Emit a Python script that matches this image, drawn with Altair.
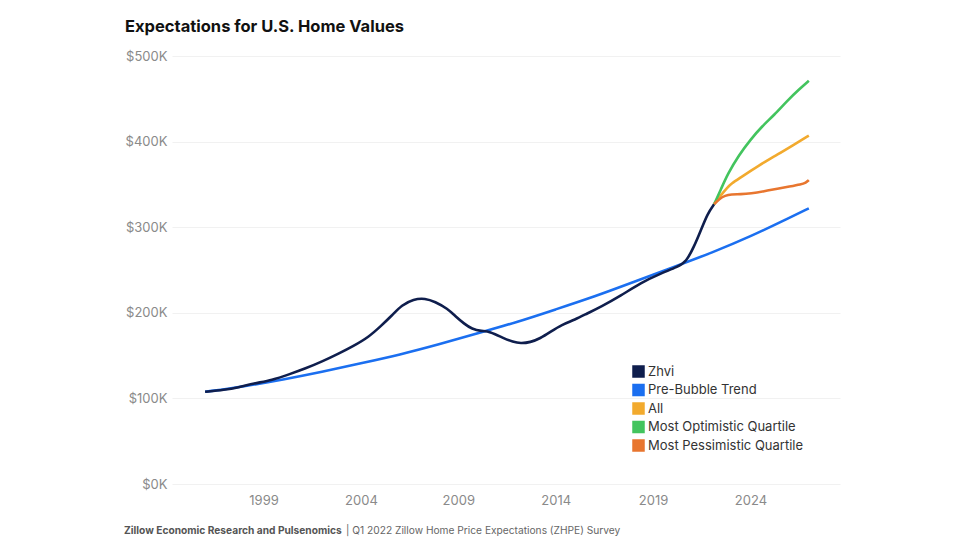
import altair as alt
import pandas as pd

# ---- data (values in $K, x in decimal years) ----
zhvi_years = [1996.0, 1997.0, 1997.7, 1998.5, 1999.45, 2000.3, 2001.16, 2002.0, 2002.87, 2003.6,
              2004.41, 2005.0, 2005.6, 2006.1, 2006.7, 2007.3, 2007.8, 2008.44, 2008.9, 2009.29,
              2009.7, 2010.2, 2010.6, 2011.35, 2011.8, 2012.2, 2012.7, 2013.2, 2013.75, 2014.3,
              2015.0, 2015.6, 2016.32, 2017.35, 2018.37, 2019.4, 2020.26, 2020.7, 2021.1, 2021.45,
              2021.8, 2022.14]
zhvi_values = [107.7, 110, 112.8, 117.5, 121.4, 128, 135, 143, 152.5, 161,
               171.9, 184, 197, 209, 216, 217, 213, 205, 195, 187.5,
               181, 178.5, 178.5, 170, 166, 164.2, 165.5, 170, 178, 186,
               192, 199, 207, 220, 235, 246, 253.6, 259.5, 277, 296,
               316, 327]

trend_years = [1996, 1998, 2000, 2002, 2004, 2006, 2008, 2010, 2012, 2014, 2016, 2018, 2020, 2022, 2024, 2026, 2027]
trend_values = [107.7, 114, 122, 131, 141, 151, 163, 176, 189, 204, 219, 236, 253, 270, 289, 311, 322]

all_years = [2022.14, 2022.5, 2022.8, 2023.02, 2023.5, 2024.03, 2024.7, 2025.4, 2026.2, 2027.0]
all_values = [327, 338, 346, 351, 358, 366, 376, 385, 396, 407]

opt_years = [2022.14, 2022.5, 2022.83, 2023.4, 2024.03, 2024.6, 2025.22, 2025.9, 2026.5, 2027.0]
opt_values = [327, 345, 362, 384, 403, 418, 431, 448, 461, 471]

pess_years = [2022.14, 2022.4, 2022.7, 2023.02, 2023.5, 2024.03, 2024.7, 2025.4, 2026.0, 2026.6, 2026.85, 2027.0]
pess_values = [327, 333, 337, 338.5, 338.5, 339.5, 342, 345, 347.5, 350, 352, 355]

series_names = ["Zhvi", "Pre-Bubble Trend", "All", "Most Optimistic Quartile", "Most Pessimistic Quartile"]
series_colors = ["#0f1e4d", "#1b6ff0", "#f2aa2e", "#43c45e", "#e8762f"]

x_ticks = [1999, 2004, 2009, 2014, 2019, 2024]
y_ticks = [0, 100000, 200000, 300000, 400000, 500000]

title_text = "Expectations for U.S. Home Values"
footer_bold = "Zillow Economic Research and Pulsenomics"
footer_rest = "| Q1 2022 Zillow Home Price Expectations (ZHPE) Survey"

# ---- build table ----
rows = []
for name, ys, vs in [
    ("Pre-Bubble Trend", trend_years, trend_values),
    ("Zhvi", zhvi_years, zhvi_values),
    ("All", all_years, all_values),
    ("Most Optimistic Quartile", opt_years, opt_values),
    ("Most Pessimistic Quartile", pess_years, pess_values),
]:
    for y, v in zip(ys, vs):
        rows.append({"series": name, "year": y, "value": v * 1000})
df = pd.DataFrame(rows)

W, H = 668, 428
FONT = "Inter"

x_enc = alt.X("year:Q",
              scale=alt.Scale(domain=[1994.3, 2028.6], nice=False, zero=False),
              axis=alt.Axis(values=x_ticks, format="d", title=None, grid=False, domain=False,
                            ticks=False, labelColor="#8a8a8a", labelFontSize=13, labelFont=FONT,
                            labelPadding=10))
y_enc = alt.Y("value:Q",
              scale=alt.Scale(domain=[0, 500000], nice=False),
              axis=alt.Axis(values=y_ticks, labelExpr="'$' + format(datum.value/1000, 'd') + 'K'",
                            title=None, domain=False, ticks=False, gridColor="#f1f1f1",
                            labelColor="#8a8a8a", labelFontSize=13, labelFont=FONT, labelPadding=5))
color_enc = alt.Color("series:N",
                      scale=alt.Scale(domain=series_names, range=series_colors),
                      legend=alt.Legend(title=None, orient="none", legendX=460, legendY=309,
                                        symbolType="square", symbolSize=121,
                                        labelFontSize=13, labelFont=FONT, labelColor="#333333",
                                        rowPadding=1.5, labelOffset=3))

base = alt.Chart(df)

# invisible square layer supplies filled square legend symbols
squares = base.mark_square(size=0, filled=True, opacity=1).encode(
    x=x_enc, y=y_enc, color=color_enc)

lines = base.mark_line(strokeWidth=2.6, interpolate="basis").encode(
    x=x_enc, y=y_enc, color=color_enc, detail="series:N")

foot_df = pd.DataFrame({"a": [footer_bold], "b": [footer_rest]})
foot1 = alt.Chart(foot_df).mark_text(align="left", baseline="middle", fontSize=10.2, fontWeight="bold",
                                     font=FONT, color="#555555").encode(
    x=alt.value(-48), y=alt.value(475), text="a:N")
foot2 = alt.Chart(foot_df).mark_text(align="left", baseline="middle", fontSize=10.2,
                                     font=FONT, color="#666666").encode(
    x=alt.value(174), y=alt.value(475), text="b:N")

chart = alt.layer(squares, lines, foot1, foot2).properties(
    width=W, height=H,
    background="white",
    title=alt.TitleParams(title_text, anchor="start", fontSize=16.5, fontWeight="bold", font=FONT,
                          color="#111111", dx=1, offset=15),
    autosize=alt.AutoSizeParams(type="none"),
    padding={"left": 164, "top": 48, "right": 120, "bottom": 56},
).configure_view(stroke=None)

chart.save("out.html", embed_options={"renderer": "svg", "actions": False})
